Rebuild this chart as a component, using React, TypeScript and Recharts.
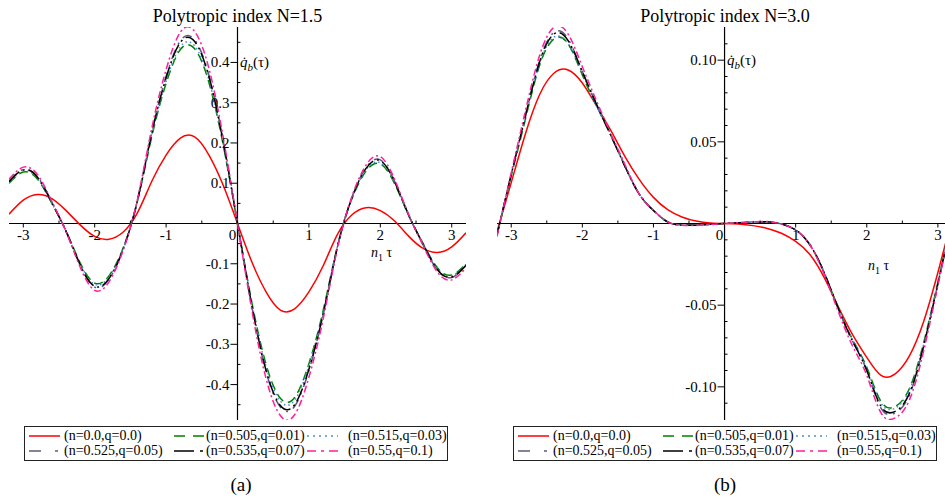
import React from "react";
import { ComposedChart, Line, Scatter, XAxis, YAxis, ReferenceLine } from "recharts";

const SERIF = '"Liberation Serif", "Times New Roman", serif';

// sample positions (n1 tau)
const X_A = [-3.2, -3.0, -2.8, -2.6, -2.4, -2.2, -2.0, -1.8, -1.6, -1.4, -1.2, -1.0, -0.8, -0.6, -0.4, -0.2, 0, 0.2, 0.4, 0.6, 0.8, 1.0, 1.2, 1.4, 1.6, 1.8, 2.0, 2.2, 2.4, 2.6, 2.8, 3.0, 3.2];
const X_B = X_A;

// panel (a): N = 1.5
const RED_A = [0.023, 0.058, 0.072, 0.062, 0.032, -0.004, -0.032, -0.039, -0.021, 0.027, 0.105, 0.170, 0.212, 0.215, 0.170, 0.095, 0, -0.095, -0.170, -0.215, -0.212, -0.170, -0.105, -0.027, 0.021, 0.039, 0.032, 0.006, -0.032, -0.062, -0.072, -0.058, -0.023];
const GREEN_A = [0.100, 0.128, 0.110, 0.050, -0.019, -0.099, -0.148, -0.130, -0.060, 0.056, 0.216, 0.348, 0.432, 0.434, 0.350, 0.195, 0, -0.195, -0.350, -0.434, -0.432, -0.348, -0.216, -0.056, 0.060, 0.130, 0.148, 0.099, 0.019, -0.050, -0.110, -0.128, -0.100];
const BLUE_A = [0.101, 0.130, 0.112, 0.051, -0.019, -0.101, -0.151, -0.133, -0.061, 0.057, 0.219, 0.353, 0.439, 0.441, 0.356, 0.198, 0, -0.198, -0.356, -0.441, -0.439, -0.353, -0.219, -0.057, 0.061, 0.133, 0.151, 0.101, 0.019, -0.051, -0.112, -0.130, -0.101];
const GRAY_A = [0.105, 0.134, 0.116, 0.053, -0.020, -0.105, -0.158, -0.139, -0.064, 0.058, 0.227, 0.365, 0.454, 0.456, 0.368, 0.205, 0, -0.205, -0.368, -0.456, -0.454, -0.365, -0.227, -0.058, 0.064, 0.139, 0.158, 0.105, 0.020, -0.053, -0.116, -0.134, -0.105];
const BLACK_A = [0.104, 0.133, 0.115, 0.052, -0.020, -0.104, -0.156, -0.137, -0.063, 0.058, 0.225, 0.362, 0.450, 0.452, 0.365, 0.203, 0, -0.203, -0.365, -0.452, -0.450, -0.362, -0.225, -0.058, 0.063, 0.137, 0.156, 0.104, 0.020, -0.052, -0.115, -0.133, -0.104];
const PINK_A = [0.110, 0.140, 0.121, 0.055, -0.021, -0.110, -0.166, -0.145, -0.066, 0.061, 0.237, 0.382, 0.475, 0.477, 0.385, 0.214, 0, -0.214, -0.385, -0.477, -0.475, -0.382, -0.237, -0.061, 0.066, 0.145, 0.166, 0.110, 0.021, -0.055, -0.121, -0.140, -0.110];

// panel (b): N = 3.0
const RED_B = [-0.005, 0.025, 0.055, 0.079, 0.092, 0.094, 0.086, 0.072, 0.057, 0.041, 0.027, 0.016, 0.0085, 0.004, 0.0015, 0.0003, 0, -0.0003, -0.0013, -0.003, -0.006, -0.011, -0.019, -0.033, -0.051, -0.068, -0.082, -0.093, -0.092, -0.081, -0.060, -0.030, 0.003];
const GREEN_B = [-0.007, 0.029, 0.064, 0.097, 0.113, 0.110, 0.091, 0.072, 0.054, 0.035, 0.018, 0.008, 0.001, -0.001, -0.001, -0.0005, 0, 0.0004, 0.0009, 0.001, -0.0003, -0.004, -0.013, -0.030, -0.052, -0.071, -0.088, -0.109, -0.112, -0.101, -0.073, -0.036, 0.003];
const BLUE_B = [-0.007, 0.030, 0.065, 0.098, 0.114, 0.110, 0.092, 0.072, 0.054, 0.035, 0.018, 0.008, 0.001, -0.001, -0.001, -0.0005, 0, 0.0004, 0.0009, 0.001, -0.0003, -0.004, -0.013, -0.030, -0.052, -0.071, -0.089, -0.110, -0.113, -0.102, -0.074, -0.036, 0.003];
const GRAY_B = [-0.007, 0.030, 0.066, 0.100, 0.117, 0.113, 0.093, 0.073, 0.054, 0.035, 0.018, 0.008, 0.001, -0.001, -0.001, -0.0005, 0, 0.0004, 0.0009, 0.001, -0.0003, -0.004, -0.013, -0.030, -0.052, -0.072, -0.090, -0.113, -0.116, -0.105, -0.075, -0.037, 0.003];
const BLACK_B = [-0.007, 0.030, 0.066, 0.099, 0.116, 0.112, 0.093, 0.073, 0.054, 0.035, 0.018, 0.008, 0.001, -0.001, -0.001, -0.0005, 0, 0.0004, 0.0009, 0.001, -0.0003, -0.004, -0.013, -0.030, -0.052, -0.072, -0.090, -0.112, -0.115, -0.104, -0.075, -0.037, 0.003];
const PINK_B = [-0.008, 0.031, 0.069, 0.103, 0.120, 0.116, 0.096, 0.075, 0.055, 0.036, 0.018, 0.008, 0.001, -0.001, -0.0012, -0.0006, 0, 0.0005, 0.001, 0.0012, -0.0003, -0.004, -0.013, -0.031, -0.054, -0.075, -0.093, -0.116, -0.119, -0.108, -0.078, -0.038, 0.003];

// ticks
const X_MAJOR = [-3, -2, -1, 0, 1, 2, 3];
const X_MINOR = [-2.5, -1.5, -0.5, 0.5, 1.5, 2.5];
const Y_MAJOR_A = [-0.4, -0.3, -0.2, -0.1, 0.1, 0.2, 0.3, 0.4];
const Y_MINOR_A = [-0.45, -0.35, -0.25, -0.15, -0.05, 0.05, 0.15, 0.25, 0.35, 0.45];
const Y_MAJOR_B = [-0.1, -0.05, 0.05, 0.1];
const Y_MINOR_B = [-0.11, -0.09, -0.08, -0.07, -0.06, -0.04, -0.03, -0.02, -0.01, 0.01, 0.02, 0.03, 0.04, 0.06, 0.07, 0.08, 0.09, 0.11];

const SERIES = [
  { key: "red", name: "(n=0.0,q=0.0)", color: "#ff0000", dash: undefined, legendDash: undefined },
  { key: "green", name: "(n=0.505,q=0.01)", color: "#008000", dash: "9 5", legendDash: "11 8" },
  { key: "blue", name: "(n=0.515,q=0.03)", color: "#4a8fd0", dash: "1.5 3", legendDash: "2 4" },
  { key: "gray", name: "(n=0.525,q=0.05)", color: "#5a5a80", dash: "10 6 2 6", legendDash: "12 14 3 20" },
  { key: "black", name: "(n=0.535,q=0.07)", color: "#000000", dash: "14 4 2 4", legendDash: "20 6 3 20" },
  { key: "pink", name: "(n=0.55,q=0.1)", color: "#ff1f9a", dash: "7 3 2 3", legendDash: "9 5 3 5" },
];

const rowsA = X_A.map((x, i) => ({ x, red: RED_A[i], green: GREEN_A[i], blue: BLUE_A[i], gray: GRAY_A[i], black: BLACK_A[i], pink: PINK_A[i] }));
const rowsB = X_B.map((x, i) => ({ x, red: RED_B[i], green: GREEN_B[i], blue: BLUE_B[i], gray: GRAY_B[i], black: BLACK_B[i], pink: PINK_B[i] }));

const XTick = (p: any) => {
  const { cx, cy, payload } = p;
  return (
    <g>
      {payload.x !== 0 && (
        <line x1={cx} x2={cx} y1={cy} y2={payload.major ? cy + 4 : cy - 3} stroke="#000" strokeWidth={1} />
      )}
      {payload.label != null && (
        <text x={cx + (payload.x === 0 ? -5 : 0)} y={cy + 16} textAnchor="middle" fontSize={15} fontFamily={SERIF} fill="#000">
          {payload.label}
        </text>
      )}
    </g>
  );
};

const YTick = (p: any) => {
  const { cx, cy, payload } = p;
  return (
    <g>
      <line x1={cx} x2={payload.major ? cx - 7 : cx + 3} y1={cy} y2={cy} stroke="#000" strokeWidth={1} />
      {payload.label != null && (
        <text x={cx - 8} y={cy + 5} textAnchor="end" fontSize={15} fontFamily={SERIF} fill="#000">
          {payload.label}
        </text>
      )}
    </g>
  );
};

function Panel(props: any) {
  const { left, width, marginLeft, marginRight, data, xDomain, yDomain, yMajor, yMinor, yFmt } = props;
  const xTicks = [
    ...X_MAJOR.map((v) => ({ x: v, y: 0, major: true, label: String(v) })),
    ...X_MINOR.map((v) => ({ x: v, y: 0, major: false, label: null })),
  ];
  const yTicks = [
    ...yMajor.map((v: number) => ({ x: 0, y: v, major: true, label: yFmt(v) })),
    ...yMinor.map((v: number) => ({ x: 0, y: v, major: false, label: null })),
  ];
  return (
    <div style={{ position: "absolute", left, top: 0 }}>
      <ComposedChart width={width} height={430} data={data} margin={{ top: 27, bottom: 10, left: marginLeft, right: marginRight }}>
        <XAxis type="number" dataKey="x" domain={xDomain} allowDataOverflow hide />
        <YAxis type="number" domain={yDomain} allowDataOverflow hide />
        <ReferenceLine y={0} stroke="#000" strokeWidth={1.2} />
        <ReferenceLine x={0} stroke="#000" strokeWidth={1.2} />
        {SERIES.map((s) => (
          <Line
            key={s.key}
            type="natural"
            dataKey={s.key}
            stroke={s.color}
            strokeWidth={1.5}
            strokeDasharray={s.dash}
            dot={false}
            activeDot={false}
            isAnimationActive={false}
          />
        ))}
        <Scatter data={xTicks} dataKey="y" shape={XTick} isAnimationActive={false} />
        <Scatter data={yTicks} dataKey="y" shape={YTick} isAnimationActive={false} />
      </ComposedChart>
    </div>
  );
}

function LegendBox({ left }: { left: number }) {
  const cols = [
    { sample: 4, text: 39 },
    { sample: 149, text: 181 },
    { sample: 282, text: 323 },
  ];
  const rowsTop = [1, 16];
  return (
    <div
      style={{
        position: "absolute",
        left,
        top: 426,
        width: 424,
        height: 35,
        border: "1px solid #222",
        boxSizing: "border-box",
        fontFamily: SERIF,
        fontSize: 14,
        color: "#000",
      }}
    >
      {SERIES.map((s, i) => {
        const c = cols[i % 3];
        const t = rowsTop[Math.floor(i / 3)];
        return (
          <React.Fragment key={s.key}>
            <svg style={{ position: "absolute", left: c.sample, top: t + 6 }} width={31} height={4}>
              <line x1={0} x2={31} y1={2} y2={2} stroke={s.color} strokeWidth={1.5} strokeDasharray={s.legendDash} />
            </svg>
            <span style={{ position: "absolute", left: c.text, top: t, lineHeight: "16px", whiteSpace: "nowrap" }}>{s.name}</span>
          </React.Fragment>
        );
      })}
    </div>
  );
}

const fmtA = (v: number) => (v < 0 ? "-" : "") + Math.abs(v).toFixed(1);
const fmtB = (v: number) => (v < 0 ? "-" : "") + Math.abs(v).toFixed(2);

function QLabel({ x, y }: { x: number; y: number }) {
  return (
    <text x={x} y={y} fontSize={15} fontFamily={SERIF} fill="#000">
      <tspan fontStyle="italic">{"q\u0307"}</tspan>
      <tspan fontStyle="italic" fontSize={11} dy={4}>b</tspan>
      <tspan dy={-4}>(τ)</tspan>
    </text>
  );
}

function NLabel({ x, y }: { x: number; y: number }) {
  return (
    <text x={x} y={y} fontSize={14} fontFamily={SERIF} fill="#000">
      <tspan fontStyle="italic">n</tspan>
      <tspan fontSize={10} dy={4}>1</tspan>
      <tspan dy={-4}> τ</tspan>
    </text>
  );
}

export default function App() {
  return (
    <div style={{ position: "absolute", left: 0, top: 0, width: 945, height: 504, background: "#fff", overflow: "hidden" }}>
      <Panel
        left={0}
        width={470}
        marginLeft={9}
        marginRight={4}
        data={rowsA}
        xDomain={[-3.2, 3.2]}
        yDomain={[-0.488, 0.488]}
        yMajor={Y_MAJOR_A}
        yMinor={Y_MINOR_A}
        yFmt={fmtA}
      />
      <Panel
        left={470}
        width={475}
        marginLeft={27}
        marginRight={0}
        data={rowsB}
        xDomain={[-3.2, 3.1]}
        yDomain={[-0.1203, 0.1203]}
        yMajor={Y_MAJOR_B}
        yMinor={Y_MINOR_B}
        yFmt={fmtB}
      />
      <LegendBox left={24} />
      <LegendBox left={513} />
      <svg style={{ position: "absolute", left: 0, top: 0, pointerEvents: "none" }} width={945} height={504}>
        <text x={237.5} y={22} textAnchor="middle" fontSize={18} fontFamily={SERIF} fill="#000">Polytropic index N=1.5</text>
        <text x={725} y={22} textAnchor="middle" fontSize={18} fontFamily={SERIF} fill="#000">Polytropic index N=3.0</text>
        <QLabel x={240} y={67} />
        <QLabel x={727} y={65} />
        <NLabel x={371} y={257} />
        <NLabel x={868} y={270} />
        <text x={241} y={491} textAnchor="middle" fontSize={19} fontFamily={SERIF} fill="#000">(a)</text>
        <text x={725} y={491} textAnchor="middle" fontSize={19} fontFamily={SERIF} fill="#000">(b)</text>
      </svg>
    </div>
  );
}
